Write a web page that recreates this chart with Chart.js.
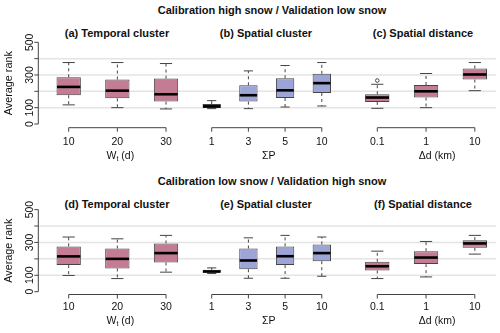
<!DOCTYPE html>
<html lang="en">
<head>
    <meta charset="UTF-8">
    <title>Average rank box plots</title>
    <script src="https://cdn.jsdelivr.net/npm/chart.js"></script>
    <style>
        html, body { margin: 0; padding: 0; background: #fff; }
        #page { position: relative; width: 500px; height: 333px; overflow: hidden; font-family: "Liberation Sans", Arial, sans-serif; color: #111; }
        canvas { position: absolute; }
        .ttl { position: absolute; transform: translate(-50%, -50%); white-space: nowrap; font-weight: bold; font-size: 11px; }
    </style>
</head>
<body>
<div id="page">
    <div class="ttl" style="left:272px; top:10px;">Calibration high snow / Validation low snow</div>
    <div class="ttl" style="left:117px; top:33px;">(a) Temporal cluster</div>
    <div class="ttl" style="left:266px; top:33px;">(b) Spatial cluster</div>
    <div class="ttl" style="left:423px; top:33px;">(c) Spatial distance</div>

    <div class="ttl" style="left:272px; top:181px;">Calibration low snow / Validation high snow</div>
    <div class="ttl" style="left:117px; top:204px;">(d) Temporal cluster</div>
    <div class="ttl" style="left:266px; top:204px;">(e) Spatial cluster</div>
    <div class="ttl" style="left:423px; top:204px;">(f) Spatial distance</div>

    <canvas id="cA" width="192" height="166" style="left:0; top:0"></canvas>
    <canvas id="cB" width="152" height="166" style="left:192px; top:0"></canvas>
    <canvas id="cC" width="156" height="166" style="left:344px; top:0"></canvas>
    <canvas id="cD" width="192" height="166" style="left:0; top:167px"></canvas>
    <canvas id="cE" width="152" height="166" style="left:192px; top:167px"></canvas>
    <canvas id="cF" width="156" height="166" style="left:344px; top:167px"></canvas>
</div>

<script>
    // categories / tick labels
    const temporalLabels = ['10', '20', '30'];
    const clusterLabels = ['1', '3', '5', '10'];
    const distanceLabels = ['0.1', '1', '10'];
    const yTickValues = [0, 100, 200, 300, 400, 500];
    const yTickLabels = ['0', '100', '', '300', '', '500'];   // R leaves out 200 and 400
    const gridValues = [100, 200, 300, 400];

    // (a) temporal cluster, calibration high snow
    const aLow  = [117, 100, 92];
    const aQ1   = [176, 157, 137];
    const aMed  = [227, 204, 182];
    const aQ3   = [286, 272, 278];
    const aHigh = [376, 376, 370];

    // (b) spatial cluster
    const bLow  = [94, 94, 104, 110];
    const bQ1   = [98, 137, 159, 190];
    const bMed  = [108, 176, 206, 250];
    const bQ3   = [122, 237, 280, 307];
    const bHigh = [143, 325, 358, 376];

    // (c) spatial distance
    const cLow  = [96, 100, 204];
    const cQ1   = [135, 162, 272];
    const cMed  = [162, 200, 303];
    const cQ3   = [182, 239, 340];
    const cHigh = [243, 309, 376];
    const cOut  = [[266], [], []];

    // (d) temporal cluster, calibration low snow
    const dLow  = [99, 80, 119];
    const dQ1   = [162, 142, 178];
    const dMed  = [215, 200, 235];
    const dQ3   = [276, 263, 294];
    const dHigh = [333, 322, 343];

    // (e) spatial cluster
    const eLow  = [111, 82, 82, 94];
    const eQ1   = [115, 137, 162, 186];
    const eMed  = [123, 190, 216, 235];
    const eQ3   = [133, 263, 276, 288];
    const eHigh = [145, 328, 343, 333];

    // (f) spatial distance
    const fLow  = [80, 90, 229];
    const fQ1   = [129, 168, 267];
    const fMed  = [155, 208, 294];
    const fQ3   = [182, 247, 314];
    const fHigh = [247, 306, 343];

    const PINK = '#c47c94';
    const BLUE = '#9da4d6';
    const LINE = '#444';
    const FONT = '"Liberation Sans", Arial, sans-serif';

    function seg(ctx, x0, y0, x1, y1) {
        ctx.beginPath();
        ctx.moveTo(x0, y0);
        ctx.lineTo(x1, y1);
        ctx.stroke();
    }

    const rBoxPlugin = {
        id: 'rbox',
        beforeDatasetsDraw(chart) {
            const p = chart.options.plugins.rbox;
            const { ctx, chartArea } = chart;
            const x = chart.scales.x, y = chart.scales.y;
            ctx.save();

            // light horizontal guide lines
            ctx.strokeStyle = '#e4e4e4';
            ctx.lineWidth = 1.5;
            gridValues.forEach(v => {
                const py = y.getPixelForValue(v);
                seg(ctx, p.gridFrom, py, p.gridTo, py);
            });

            ctx.strokeStyle = LINE;
            ctx.lineWidth = 1;
            ctx.fillStyle = '#111';

            // y axis, R style
            if (p.yAxisX !== undefined) {
                const ax = p.yAxisX;
                seg(ctx, ax, y.getPixelForValue(0), ax, y.getPixelForValue(500));
                ctx.font = '10.5px ' + FONT;
                ctx.textAlign = 'center';
                ctx.textBaseline = 'middle';
                yTickValues.forEach((v, i) => {
                    const py = y.getPixelForValue(v);
                    seg(ctx, ax - 4, py, ax, py);
                    if (yTickLabels[i]) {
                        ctx.save();
                        ctx.translate(ax - 8.5, py);
                        ctx.rotate(-Math.PI / 2);
                        ctx.fillText(yTickLabels[i], 0, 0);
                        ctx.restore();
                    }
                });
                ctx.save();
                ctx.font = '10.8px ' + FONT;
                ctx.translate(9.5, (y.getPixelForValue(0) + y.getPixelForValue(500)) / 2);
                ctx.rotate(-Math.PI / 2);
                ctx.fillText('Average rank', 0, 0);
                ctx.restore();
            }

            // x axis from first to last tick
            const labels = chart.data.labels;
            const xs = labels.map((l, i) => x.getPixelForValue(i));
            const ay = chartArea.bottom + p.axisGap;
            seg(ctx, xs[0], ay, xs[xs.length - 1], ay);
            ctx.font = '10.5px ' + FONT;
            ctx.textAlign = 'center';
            ctx.textBaseline = 'middle';
            xs.forEach((px, i) => {
                seg(ctx, px, ay, px, ay + 4);
                ctx.fillText(labels[i], px, chartArea.bottom + p.labelGap);
            });
            const mid = (xs[0] + xs[xs.length - 1]) / 2 + p.titleShift;
            const ty = chartArea.bottom + p.titleGap;
            if (p.title === 'W') {
                ctx.textAlign = 'left';
                const w1 = ctx.measureText('W').width;
                ctx.font = '7px ' + FONT;
                const w2 = ctx.measureText('t').width;
                ctx.font = '10.5px ' + FONT;
                const w3 = ctx.measureText(' (d)').width;
                let sx = mid - (w1 + w2 + w3) / 2;
                ctx.fillText('W', sx, ty);
                ctx.font = '7px ' + FONT;
                ctx.fillText('t', sx + w1, ty + 3);
                ctx.font = '10.5px ' + FONT;
                ctx.fillText(' (d)', sx + w1 + w2, ty);
            } else {
                ctx.fillText(p.title, mid, ty);
            }
            ctx.restore();
        },
        afterDatasetsDraw(chart) {
            const p = chart.options.plugins.rbox;
            const { ctx } = chart;
            const x = chart.scales.x, y = chart.scales.y;
            const bars = chart.getDatasetMeta(0).data;
            ctx.save();
            p.low.forEach((lo, i) => {
                const cx = x.getPixelForValue(i);
                const w = bars[i].width;
                const yLo = y.getPixelForValue(lo), yHi = y.getPixelForValue(p.high[i]);
                const yQ1 = y.getPixelForValue(p.q1[i]), yQ3 = y.getPixelForValue(p.q3[i]);
                // whiskers
                ctx.strokeStyle = LINE;
                ctx.lineWidth = 1;
                ctx.setLineDash([3, 3]);
                seg(ctx, cx, yQ3, cx, yHi);
                seg(ctx, cx, yQ1, cx, yLo);
                ctx.setLineDash([]);
                seg(ctx, cx - w / 4, yHi, cx + w / 4, yHi);
                seg(ctx, cx - w / 4, yLo, cx + w / 4, yLo);
                // median
                ctx.strokeStyle = '#000';
                ctx.lineWidth = 2.6;
                const ym = y.getPixelForValue(p.med[i]);
                seg(ctx, cx - w / 2 + 0.5, ym, cx + w / 2 - 0.5, ym);
                // outliers
                if (p.out && p.out[i]) {
                    ctx.strokeStyle = LINE;
                    ctx.lineWidth = 1;
                    p.out[i].forEach(v => {
                        ctx.beginPath();
                        ctx.arc(cx, y.getPixelForValue(v), 1.8, 0, Math.PI * 2);
                        ctx.stroke();
                    });
                }
            });
            ctx.restore();
        }
    };

    function makePanel(id, labels, low, q1, med, q3, high, out, color, lay) {
        new Chart(document.getElementById(id), {
            type: 'bar',
            data: {
                labels: labels,
                datasets: [{
                    data: q1.map((v, i) => [v, q3[i]]),
                    backgroundColor: color,
                    borderColor: LINE,
                    borderWidth: 1,
                    borderSkipped: false,
                    barPercentage: 0.5,
                    categoryPercentage: 1
                }]
            },
            options: {
                responsive: false,
                animation: false,
                events: [],
                layout: { padding: lay.padding },
                scales: {
                    x: { display: false, offset: true },
                    y: { display: false, min: 0, max: 500 }
                },
                plugins: {
                    legend: { display: false },
                    tooltip: { enabled: false },
                    rbox: Object.assign({ low, q1, med, q3, high, out }, lay.axis)
                }
            },
            plugins: [rBoxPlugin]
        });
    }

    // row 1: plot spans y 42.3 .. 124 ; row 2 canvas starts at 167: 42.6 .. 124.7
    const row1 = { top: 42.3, bottom: 42, axisGap: 3.7, labelGap: 17.7, titleGap: 31.7 };
    const row2 = { top: 42.6, bottom: 41.3, axisGap: 2.8, labelGap: 15, titleGap: 29 };

    function layA(r, title) {
        return { padding: { left: 44.35, right: 1.65, top: r.top, bottom: r.bottom },
                 axis: { gridFrom: 38.3, gridTo: 192, yAxisX: 38.3, axisGap: r.axisGap, labelGap: r.labelGap, titleGap: r.titleGap, title: title, titleShift: 3 } };
    }
    function layB(r, title) {
        return { padding: { left: 1.35, right: 3.85, top: r.top, bottom: r.bottom },
                 axis: { gridFrom: 0, gridTo: 152, axisGap: r.axisGap, labelGap: r.labelGap, titleGap: r.titleGap, title: title, titleShift: 2 } };
    }
    function layC(r, title) {
        return { padding: { left: 8.9, right: 0.8, top: r.top, bottom: r.bottom },
                 axis: { gridFrom: 0, gridTo: 152, axisGap: r.axisGap, labelGap: r.labelGap, titleGap: r.titleGap, title: title, titleShift: 11 } };
    }

    makePanel('cA', temporalLabels, aLow, aQ1, aMed, aQ3, aHigh, null, PINK, layA(row1, 'W'));
    makePanel('cB', clusterLabels, bLow, bQ1, bMed, bQ3, bHigh, null, BLUE, layB(row1, 'ΣP'));
    makePanel('cC', distanceLabels, cLow, cQ1, cMed, cQ3, cHigh, cOut, PINK, layC(row1, 'Δd (km)'));
    makePanel('cD', temporalLabels, dLow, dQ1, dMed, dQ3, dHigh, null, PINK, layA(row2, 'W'));
    makePanel('cE', clusterLabels, eLow, eQ1, eMed, eQ3, eHigh, null, BLUE, layB(row2, 'ΣP'));
    makePanel('cF', distanceLabels, fLow, fQ1, fMed, fQ3, fHigh, null, PINK, layC(row2, 'Δd (km)'));
</script>
</body>
</html>
